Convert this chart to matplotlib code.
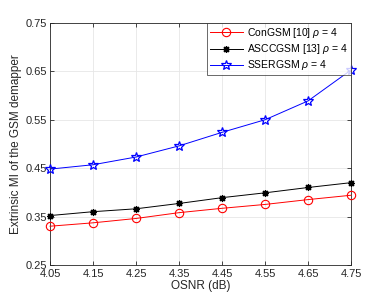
import numpy as np
import matplotlib.pyplot as plt

plt.rcParams['font.family'] = ['Liberation Sans', 'DejaVu Sans']
plt.rcParams['mathtext.fontset'] = 'custom'
plt.rcParams['mathtext.it'] = 'Liberation Sans:italic'

# 数据
osnr = [4.05, 4.15, 4.25, 4.35, 4.45, 4.55, 4.65, 4.75]
congsm = [0.330, 0.337, 0.346, 0.358, 0.367, 0.375, 0.385, 0.394]
asccgsm = [0.352, 0.360, 0.366, 0.377, 0.389, 0.399, 0.410, 0.420]
ssergsm = [0.448, 0.457, 0.473, 0.496, 0.524, 0.550, 0.589, 0.653]

fig = plt.figure(figsize=(3.88, 2.98), dpi=100)
ax = fig.add_axes([0.129, 0.111, 0.776, 0.812])

ax.plot(osnr, congsm, color="red", lw=0.7, marker="o", ms=6, mfc="none", mew=0.8,
        label=r"ConGSM [10] $\rho$ = 4", clip_on=False, zorder=3)
ax.plot(osnr, asccgsm, color="black", lw=0.7, marker=(8, 2, 0), ms=5, mew=0.9,
        label=r"ASCCGSM [13] $\rho$ = 4", clip_on=False, zorder=3)
ax.plot(osnr, ssergsm, color="blue", lw=0.7, marker="*", ms=7, mfc="none", mew=0.9,
        label=r"SSERGSM $\rho$ = 4", clip_on=False, zorder=3)

ax.set_xlim(4.05, 4.75)
ax.set_ylim(0.25, 0.75)
ax.set_xticks(osnr)
ax.set_yticks([0.25, 0.35, 0.45, 0.55, 0.65, 0.75])
ax.set_xticklabels(["4.05", "4.15", "4.25", "4.35", "4.45", "4.55", "4.65", "4.75"])
ax.set_yticklabels(["0.25", "0.35", "0.45", "0.55", "0.65", "0.75"])
ax.tick_params(direction="in", top=True, right=True, labelsize=8, length=3, width=0.6, colors="#262626")
ax.tick_params(axis="x", pad=3)
ax.tick_params(axis="y", pad=2)
for s in ax.spines.values():
    s.set_linewidth(0.6)
    s.set_color("#262626")

ax.set_xlabel("OSNR (dB)", fontsize=8.5, labelpad=1, color="#262626")
ax.set_ylabel("Extrinsic MI of the GSM demapper", fontsize=8.5, labelpad=3, color="#262626")

ax.grid(True, color="#e6e6e6", lw=0.6)
ax.set_axisbelow(True)

leg = ax.legend(loc="upper right", fontsize=7.5, fancybox=False, edgecolor="#262626",
                borderaxespad=0, handlelength=3.2, borderpad=0.3, labelspacing=0.2,
                handletextpad=0.4)
leg.get_frame().set_linewidth(0.6)
leg.set_zorder(5)

plt.savefig("out.png", dpi=100)
